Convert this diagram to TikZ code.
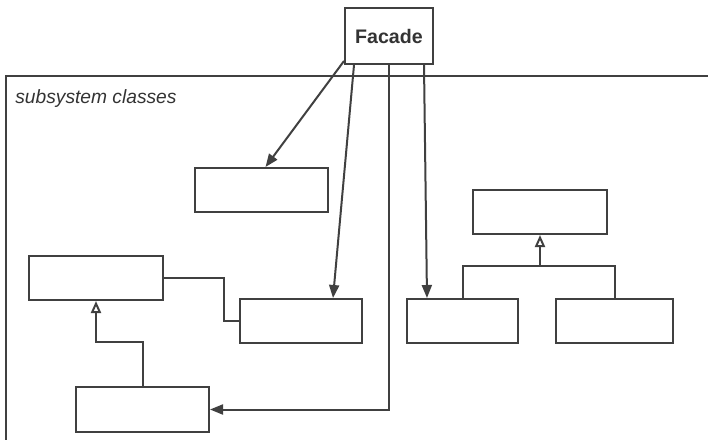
\documentclass[tikz,border=0pt]{standalone}
\usepackage{fontspec}
\setmainfont{Liberation Sans}
\usetikzlibrary{arrows.meta,calc,positioning}
\tikzset{
    cls/.style={draw=black!75, line width=1pt, fill=white, inner sep=0pt,
        minimum height=22pt},
    assoc/.style={draw=black!75, line width=1pt,
        -{Triangle[length=6.5pt,width=5pt]}},
    inherit/.style={draw=black!75, line width=1pt,
        -{Triangle[open,length=6pt,width=5pt,fill=white]}},
    plain/.style={draw=black!75, line width=1pt}
}
\begin{document}
\begin{tikzpicture}[x=0.5pt, y=-0.5pt]
    \useasboundingbox (0, 0) rectangle (708, 440);
    % subsystem frame
    \draw[plain] (708, 76) -- (6, 76) -- (6, 440);
    \node[anchor=base west, inner sep=0pt, text=black!80, font=\fontsize{9.6}{11}\selectfont\itshape]
        (sub) at (15, 103) {subsystem classes};
    % facade
    \node[cls, minimum width=44pt, minimum height=28pt,
        font=\fontsize{9.8}{11}\selectfont\bfseries, text=black!80] (fac) at (389, 36) {Facade};
    % classes
    \node[cls, minimum width=66.5pt] (A) at (261.5, 190) {};
    \node[cls, minimum width=67pt] (B) at (96, 278) {};
    \node[cls, minimum width=61pt] (C) at (301, 321) {};
    \node[cls, minimum width=66.5pt, minimum height=22.5pt] (D) at (142.5, 409.5) {};
    \node[cls, minimum width=67pt] (E) at (540, 212) {};
    \node[cls, minimum width=55.5pt] (F) at (462.5, 321) {};
    \node[cls, minimum width=58.5pt] (G) at (614.5, 321) {};
    % facade uses
    \draw[assoc] ([yshift=2pt]fac.south west) -- ([xshift=2pt]A.north);
    \draw[assoc] ([xshift=5pt]fac.south west) -- ([xshift=16pt]C.north);
    \draw[assoc] (fac.south) |- (D.east);
    \draw[assoc] ([xshift=-5pt]fac.south east) -- ([xshift=10.5pt]F.north west);
    % relations inside
    \draw[plain] (B.east) -- ++(60, 0) |- (C.west);
    \draw[inherit] (D.north) -- ++(0, -44) -| (B.south);
    \draw[plain] (F.north) -- ++(0, -32) coordinate (fork) -| (G.north);
    \draw[inherit] (fork -| E.south) -- (E.south);
\end{tikzpicture}
\end{document}
